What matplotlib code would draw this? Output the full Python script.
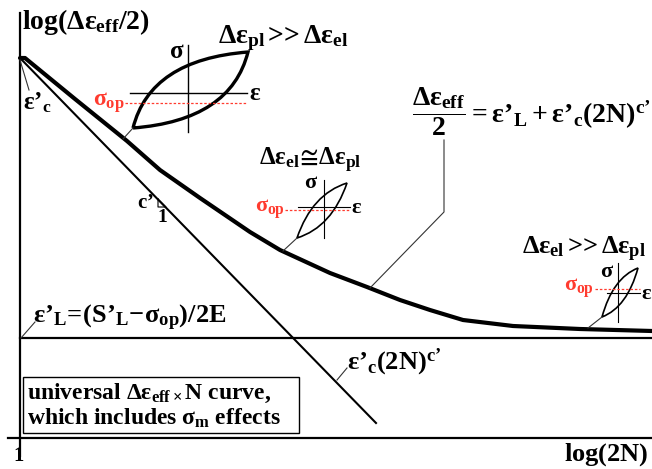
import numpy as np
import matplotlib
matplotlib.use('Agg')
import matplotlib.pyplot as plt
from matplotlib.path import Path
from matplotlib.patches import PathPatch, Rectangle

plt.rcParams['font.family'] = ['Liberation Serif', 'DejaVu Serif']
plt.rcParams['font.weight'] = 'bold'
plt.rcParams['mathtext.fontset'] = 'custom'
plt.rcParams['mathtext.rm'] = 'Liberation Serif:bold'
plt.rcParams['mathtext.it'] = 'Liberation Serif:bold'
plt.rcParams['mathtext.bf'] = 'Liberation Serif:bold'
plt.rcParams['mathtext.fallback'] = 'stix'

# schematic drawn in picture coordinates (x right, y down)
W, H = 652, 469

# axes and the elastic asymptote
y_axis_x, y_axis_top, y_axis_bot = 20, 13, 456
x_axis_y, x_axis_left = 438, 8
elastic_y = 338

# plastic line eps'_c (2N)^c'
plastic_x = [20, 376]
plastic_y = [58, 423]

# total curve
curve_x = [20, 25, 75, 127, 160, 200, 250, 280, 330, 367, 400, 430, 463, 513, 580, 652]
curve_y = [58, 58, 99, 141, 170, 198, 232, 250, 273, 287, 300, 310, 320, 326, 329, 331]

# hysteresis loops: lower-left and upper-right tips, bulge of the arcs
loop_ll = [(133, 128), (297, 238), (602, 317)]
loop_ur = [(248, 52), (347, 183), (638, 268)]
loop_bulge = [(0.15, 0.9), (0.3, 0.8), (0.3, 0.8)]
loop_lw = [2.4, 1.2, 1.2]
# sigma axis, eps axis and dashed sigma_op line of each loop
sig_axis_x = [188, 324, 618]
sig_axis_y = [(45, 132), (180, 238), (263, 322)]
eps_axis_y = [93, 207, 293]
eps_axis_x = [(130, 247), (298, 350), (607, 640)]
sop_y = [103, 210, 289]
sop_x = [(125, 247), (285, 350), (595, 640)]

# leader lines
leaders = [
    ([20, 29], [60, 90]),
    ([133, 123], [128, 139]),
    ([297, 283], [238, 251]),
    ([444, 444, 370], [140, 212, 288]),
    ([602, 588], [317, 328]),
    ([21, 35], [338, 322]),
    ([337, 347], [380, 368]),
]

# slope triangle
tri_x = [158, 158, 166]
tri_y = [199, 207, 207]

fig = plt.figure(figsize=(W / 100, H / 100), dpi=100)
ax = fig.add_axes([0, 0, 1, 1])
ax.set_xlim(0, W)
ax.set_ylim(H, 0)
ax.axis('off')

k = 'black'
ax.plot([y_axis_x, y_axis_x], [y_axis_top, y_axis_bot], color=k, lw=1.6)
ax.plot([x_axis_left, W], [x_axis_y, x_axis_y], color=k, lw=1.6)
ax.plot([y_axis_x, W], [elastic_y, elastic_y], color=k, lw=1.6)
ax.plot(plastic_x, plastic_y, color=k, lw=1.5)
ax.plot(curve_x, curve_y, color=k, lw=3.0, solid_capstyle='round')

for lx, ly in leaders:
    ax.plot(lx, ly, color='#333333', lw=0.8)

ax.plot(tri_x + [tri_x[0]], tri_y + [tri_y[0]], color=k, lw=0.8)

# loops as lens shapes
for (x0, y0), (x1, y1), (bu, bv), lw in zip(loop_ll, loop_ur, loop_bulge, loop_lw):
    dw, dh = x1 - x0, y0 - y1
    verts = [(x0, y0), (x0 + bu * dw, y0 - bv * dh), (x1, y1),
             (x1 - bu * dw, y1 + bv * dh), (x0, y0)]
    codes = [Path.MOVETO, Path.CURVE3, Path.CURVE3, Path.CURVE3, Path.CURVE3]
    ax.add_patch(PathPatch(Path(verts, codes), fill=False, lw=lw, ec=k, joinstyle='miter'))

red = '#ff3b2f'
for i in range(3):
    lw = 1.0 if i == 0 else 0.8
    ax.plot([sig_axis_x[i]] * 2, sig_axis_y[i], color=k, lw=lw)
    ax.plot(eps_axis_x[i], [eps_axis_y[i]] * 2, color=k, lw=lw)
    ax.plot(sop_x[i], [sop_y[i]] * 2, color=red, lw=0.9, ls=(0, (2, 1.5)))

e = r'\varepsilon'
p = r'\mathrm{’}'   # prime drawn as a text apostrophe

ax.text(22, 22, r'$\mathrm{log}(\Delta%s_{eff}/2)$' % e, fontsize=20, va='center', ha='left')
ax.text(218, 38, r'$\Delta%s_{pl}\,$>>$\,\Delta%s_{el}$' % (e, e), fontsize=20, va='center')
ax.text(177, 52, r'$\sigma$', fontsize=18, va='center', ha='center')
ax.text(249, 94, r'$%s$' % e, fontsize=18, va='center', ha='left')
ax.text(125, 103, r'$\sigma_{op}$', fontsize=17, va='center', ha='right', color=red)

ax.text(259, 160, r'$\Delta%s_{el}\!\cong\!\Delta%s_{pl}$' % (e, e), fontsize=18, va='center')
ax.text(311, 183, r'$\sigma$', fontsize=16, va='center', ha='center')
ax.text(351, 208, r'$%s$' % e, fontsize=16, va='center', ha='left')
ax.text(285, 209, r'$\sigma_{op}$', fontsize=16, va='center', ha='right', color=red)

ax.text(412, 112, r"$\dfrac{\Delta%s_{eff}}{2}=%s%s_L+%s%s_c(2N)^{c%s}$" % (e, e, p, e, p, p),
        fontsize=20, va='center', ha='left')

ax.text(522, 249, r'$\Delta%s_{el}\,$>>$\,\Delta%s_{pl}$' % (e, e), fontsize=19, va='center')
ax.text(607, 272, r'$\sigma$', fontsize=16, va='center', ha='center')
ax.text(641, 294, r'$%s$' % e, fontsize=16, va='center', ha='left')
ax.text(594, 288, r'$\sigma_{op}$', fontsize=16, va='center', ha='right', color=red)

ax.text(23, 103, r"$%s%s_c$" % (e, p), fontsize=18, va='center', ha='left')
ax.text(154, 203, r"$c%s$" % p, fontsize=15, va='center', ha='right')
ax.text(162, 217, '1', fontsize=14, va='center', ha='center')

ax.text(33, 318, r"$%s%s_L\!=\!(S%s_L\!-\!\sigma_{op})/2E$" % (e, p, p), fontsize=19,
        va='center', ha='left')
ax.text(347, 362, r"$%s%s_c(2N)^{c%s}$" % (e, p, p), fontsize=19, va='center', ha='left')

ax.add_patch(Rectangle((23, 377), 276, 56, fill=False, ec=k, lw=1.0))
ax.text(27, 393, r'universal $\Delta%s_{eff\times}N$ curve,' % e, fontsize=17, va='center')
ax.text(27, 418, r'which includes $\sigma_m$ effects', fontsize=17, va='center')

ax.text(19, 456, '1', fontsize=15, va='center', ha='center')
ax.text(648, 455, r'$\mathrm{log}(2N)$', fontsize=19, va='center', ha='right')

fig.savefig('out.png', dpi=100)
